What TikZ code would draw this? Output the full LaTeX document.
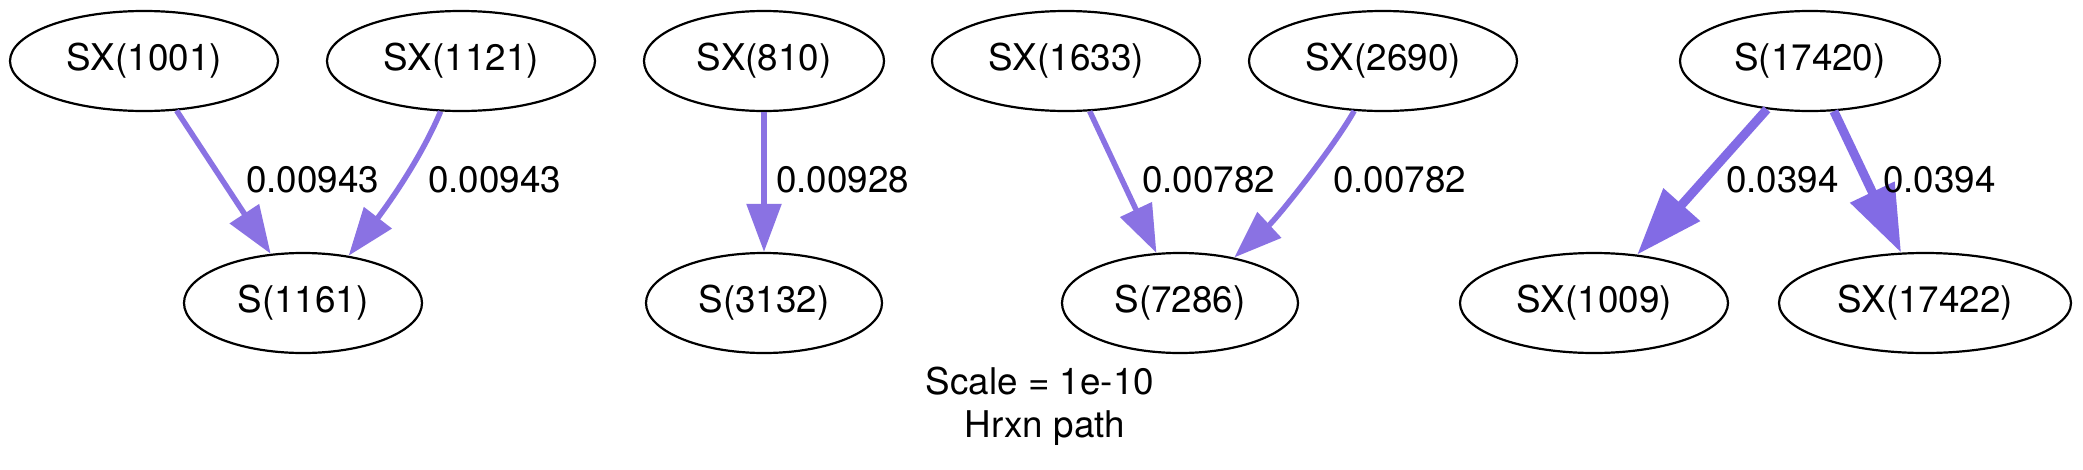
\documentclass[tikz,border=0pt]{standalone}
\usepackage{fontspec}
\setmainfont{TeX Gyre Heros}
\usetikzlibrary{arrows.meta,shapes.geometric}
\definecolor{thinc}{HTML}{8A72E3}
\definecolor{thickc}{HTML}{826BE5}
\begin{document}
\begin{tikzpicture}[x=1pt,y=-1pt,
  sp/.style={draw=black,line width=2.2pt,ellipse,inner sep=0pt,minimum height=100pt,
    font=\fontsize{36.8}{44}\selectfont},
  elab/.style={inner sep=0pt,anchor=base west,font=\fontsize{36.8}{44}\selectfont},
  thinedge/.style={draw=thinc,line width=5.5pt,-{Triangle[length=48pt,width=34pt]}},
  thickedge/.style={draw=thickc,line width=9pt,-{Triangle[length=67pt,width=47pt]}}]
\useasboundingbox[fill=white] (0,0) rectangle (2083,469);
\node[sp,minimum width=268pt] (a) at (144,61) {SX(1001)};
\node[sp,minimum width=268pt] (b) at (461,61) {SX(1121)};
\node[sp,minimum width=238pt] (c) at (303,303) {S(1161)};
\node[sp,minimum width=240pt] (d) at (764,61) {SX(810)};
\node[sp,minimum width=236pt] (e) at (764,303) {S(3132)};
\node[sp,minimum width=268pt] (f) at (1066,61) {SX(1633)};
\node[sp,minimum width=268pt] (g) at (1383,61) {SX(2690)};
\node[sp,minimum width=236pt] (h) at (1180,303) {S(7286)};
\node[sp,minimum width=260pt] (i) at (1810,61) {S(17420)};
\node[sp,minimum width=268pt] (j) at (1594,303) {SX(1009)};
\node[sp,minimum width=292pt] (k) at (1925,303) {SX(17422)};
\draw[thinedge] (a) -- (c);
\draw[thinedge] (b.-112) .. controls (418,165) and (380,215) .. (c.46);
\draw[thinedge] (d) -- (e);
\draw[thinedge] (f) -- (h);
\draw[thinedge] (g.-120) .. controls (1335,145) and (1280,215) .. (h.40);
\draw[thickedge] (i) -- (j);
\draw[thickedge] (i) -- (k);
\node[elab] (l1) at (246,192) {0.00943};
\node[elab] (l2) at (428,192) {0.00943};
\node[elab] (l3) at (776,192) {0.00928};
\node[elab] (l4) at (1142,192) {0.00782};
\node[elab] (l5) at (1333,192) {0.00782};
\node[elab] (l6) at (1726,192) {0.0394};
\node[elab] (l7) at (1883,192) {0.0394};
\node[inner sep=0pt,anchor=base,font=\fontsize{36.8}{44}\selectfont] (cap1) at (1040,394) {Scale = 1e-10};
\node[inner sep=0pt,anchor=base,font=\fontsize{36.8}{44}\selectfont] (cap2) at (1045,437) {Hrxn path};
\end{tikzpicture}
\end{document}
